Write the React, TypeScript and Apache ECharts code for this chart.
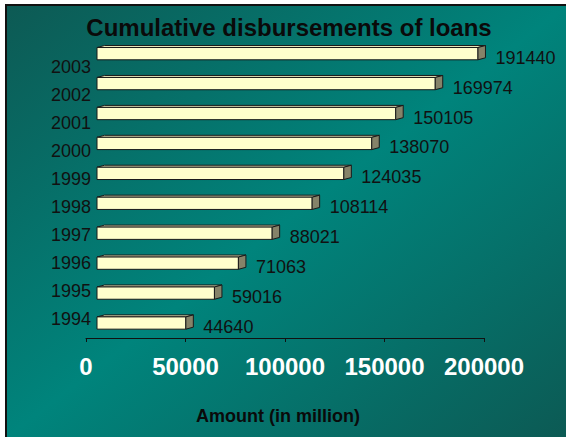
import React, { useEffect, useRef } from "react";
import * as echarts from "echarts";

const years = ["1994", "1995", "1996", "1997", "1998", "1999", "2000", "2001", "2002", "2003"];
const amounts = [44640, 59016, 71063, 88021, 108114, 124035, 138070, 150105, 169974, 191440];
const xTicks = [0, 50000, 100000, 150000, 200000];
const titleText = "Cumulative disbursements of loans";
const axisTitle = "Amount (in million)";

const FONT = '"Liberation Sans", Arial, Helvetica, sans-serif';

export default function App() {
  const ref = useRef<HTMLDivElement>(null);

  useEffect(() => {
    if (!ref.current) return;
    const chart = echarts.init(ref.current, null, { renderer: "svg" });
    const xMin = xTicks[0];
    const xMax = xTicks[xTicks.length - 1];
    const xInterval = xTicks[1] - xTicks[0];

    chart.setOption({
      animation: false,
      backgroundColor: "transparent",
      title: {
        text: titleText,
        left: 289,
        textAlign: "center",
        top: 15,
        padding: 0,
        textStyle: { color: "#0a0a0a", fontSize: 24, fontWeight: "bold", fontFamily: FONT },
      },
      grid: [
        { left: 86, width: 398, top: 38.7, height: 299.3 },
        { left: 97, width: 398, top: 38.7, height: 299.3 },
        { left: 98, width: 300, top: 52.7, height: 280 },
      ],
      xAxis: [
        {
          type: "value",
          gridIndex: 0,
          min: xMin,
          max: xMax,
          interval: xInterval,
          splitLine: { show: false },
          axisLine: { show: true, lineStyle: { color: "#111", width: 1 } },
          axisTick: { show: true, length: 4, lineStyle: { color: "#111" } },
          axisLabel: {
            margin: 16,
            color: "#ffffff",
            fontSize: 24,
            fontWeight: "bold",
            fontFamily: FONT,
            formatter: (v: number) => String(v),
          },
          name: axisTitle,
          nameLocation: "middle",
          nameGap: 69,
          nameTextStyle: {
            color: "#0a0a0a",
            fontSize: 18,
            fontWeight: "bold",
            fontFamily: FONT,
            padding: [0, 14, 0, 0],
          },
        },
        {
          type: "value",
          gridIndex: 1,
          min: xMin,
          max: xMax,
          show: false,
        },
        {
          type: "value",
          gridIndex: 2,
          show: false,
        },
      ],
      yAxis: [
        {
          type: "category",
          gridIndex: 0,
          data: years,
          show: false,
        },
        {
          type: "category",
          gridIndex: 1,
          data: years,
          show: false,
        },
        {
          type: "category",
          gridIndex: 2,
          data: years,
          axisLine: { show: false },
          axisTick: { show: false },
          splitLine: { show: false },
          axisLabel: {
            margin: 7,
            color: "#111",
            fontSize: 18,
            fontFamily: FONT,
          },
        },
      ],
      series: [
        {
          type: "custom",
          xAxisIndex: 1,
          yAxisIndex: 1,
          data: amounts.map((v, i) => [v, i]),
          encode: { x: 0, y: 1 },
          renderItem: (_params: any, api: any) => {
            const v = api.value(0);
            const idx = api.value(1);
            const s = api.coord([0, idx]);
            const e = api.coord([v, idx]);
            const h = api.size([0, 1])[1] * 0.41;
            const top = s[1] - h / 2;
            const bot = s[1] + h / 2;
            const dx = 7.5;
            const dy = 2;
            return {
              type: "group",
              children: [
                {
                  type: "polygon",
                  shape: {
                    points: [
                      [s[0], top],
                      [s[0] + dx, top - dy],
                      [e[0] + dx, top - dy],
                      [e[0], top],
                    ],
                  },
                  style: { fill: "#e9e9b9", stroke: "#1a1a1a", lineWidth: 1 },
                },
                {
                  type: "rect",
                  shape: { x: s[0], y: top, width: e[0] - s[0], height: h },
                  style: { fill: "#FFFFCC", stroke: "#1a1a1a", lineWidth: 1 },
                },
                {
                  type: "polygon",
                  shape: {
                    points: [
                      [e[0], top],
                      [e[0] + dx, top - dy],
                      [e[0] + dx, bot - dy],
                      [e[0], bot],
                    ],
                  },
                  style: { fill: "#858369", stroke: "#1a1a1a", lineWidth: 1 },
                },
                {
                  type: "text",
                  x: e[0] + dx + 10,
                  y: s[1] + 4,
                  style: {
                    text: String(v),
                    fill: "#111",
                    font: "18px " + FONT,
                    align: "left",
                    verticalAlign: "middle",
                  },
                },
              ],
            };
          },
        },
      ],
    });

    return () => chart.dispose();
  }, []);

  return (
    <div style={{ position: "fixed", left: 0, top: 0, width: 566, height: 437, background: "#ffffff" }}>
      <div
        style={{
          position: "absolute",
          left: 5,
          top: 4,
          width: 561,
          height: 433,
          boxSizing: "border-box",
          borderTop: "2px solid #111",
          borderLeft: "2px solid #111",
          background: "linear-gradient(to bottom right, #0d5a54 0%, #00847c 50%, #0c5a54 100%)",
        }}
      />
      <div ref={ref} style={{ position: "absolute", left: 0, top: 0, width: 566, height: 437 }} />
    </div>
  );
}
